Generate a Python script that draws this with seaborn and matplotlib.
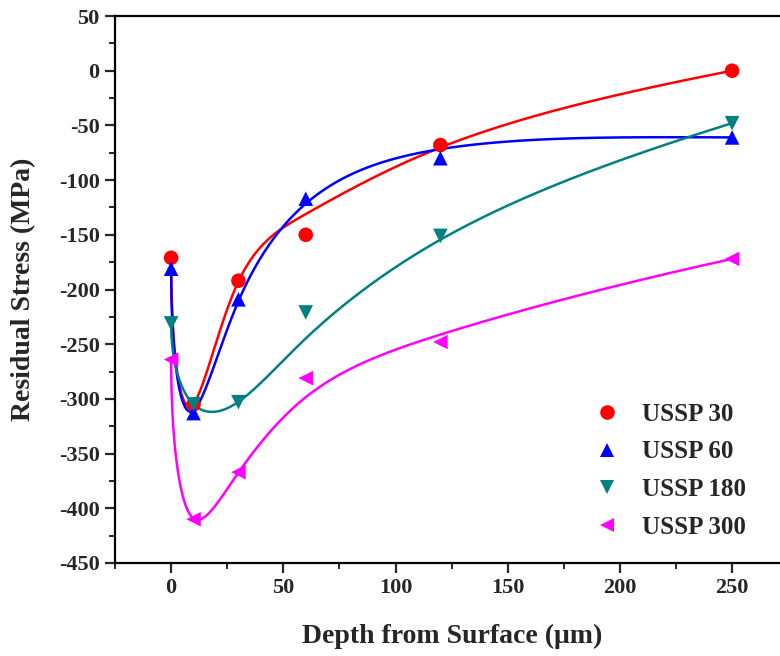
import numpy as np
import pandas as pd
import matplotlib
matplotlib.use("Agg")
import matplotlib.pyplot as plt
import seaborn as sns
from matplotlib.ticker import MultipleLocator

# ---- data ----
depth = [0, 10, 30, 60, 120, 250]
ussp30 = [-171, -305, -192, -150, -68, 0]
ussp60 = [-181, -313, -209, -117, -80, -61]
ussp180 = [-231, -305, -303, -221, -151, -48]
ussp300 = [-264, -410, -367, -281, -248, -172]
labels = ["USSP 30", "USSP 60", "USSP 180", "USSP 300"]
colors = ["#FF0000", "#0000FF", "#008080", "#FF00FF"]
markers = ["o", "^", "v", "<"]
# smoothing-spline fit settings (done in sqrt(depth) space)
fit_weights = [100.0, 100.0, 100.0, 1.0, 1.0, 100.0]
fit_lambda = [1.3, 6.0, 4.0, 3.0]


def smooth_spline(x, y, w, lam, xs):
    x = np.asarray(x, float); y = np.asarray(y, float); w = np.asarray(w, float)
    n = len(x); h = np.diff(x)
    Q = np.zeros((n, n - 2)); R = np.zeros((n - 2, n - 2))
    for j in range(1, n - 1):
        Q[j - 1, j - 1] = 1 / h[j - 1]
        Q[j, j - 1] = -1 / h[j - 1] - 1 / h[j]
        Q[j + 1, j - 1] = 1 / h[j]
        R[j - 1, j - 1] = (h[j - 1] + h[j]) / 3
        if j < n - 2:
            R[j - 1, j] = R[j, j - 1] = h[j] / 6
    K = Q @ np.linalg.solve(R, Q.T)
    W = np.diag(w)
    g = np.linalg.solve(W + lam * K, W @ y)
    gam = np.zeros(n)
    gam[1:-1] = np.linalg.solve(R, Q.T @ g)
    i = np.clip(np.searchsorted(x, xs, side="right") - 1, 0, n - 2)
    hi = h[i]
    a = xs - x[i]; b = x[i + 1] - xs
    return (a * g[i + 1] + b * g[i]) / hi - a * b / 6 * ((1 + a / hi) * gam[i + 1] + (1 + b / hi) * gam[i])


series = [ussp30, ussp60, ussp180, ussp300]
pts = pd.DataFrame({
    "depth": np.tile(depth, len(series)),
    "stress": np.concatenate(series),
    "group": np.repeat(labels, len(depth)),
})
xs = np.linspace(depth[0], depth[-1], 1500)
u = np.sqrt(np.asarray(depth, float))
curves = pd.concat([
    pd.DataFrame({"depth": xs,
                  "stress": smooth_spline(u, s, fit_weights, lam, np.sqrt(xs)),
                  "group": lab})
    for s, lab, lam in zip(series, labels, fit_lambda)
])

sns.set_style("ticks")
plt.rcParams["font.family"] = ["Liberation Serif", "DejaVu Serif"]
plt.rcParams["font.weight"] = "bold"
plt.rcParams["axes.unicode_minus"] = False

fig = plt.figure(figsize=(7.8, 6.56), dpi=100)
ax = fig.add_axes([115 / 780, 1 - 563 / 656, (780 - 115) / 780, (563 - 16) / 656])

pal = dict(zip(labels, colors))
sns.lineplot(data=curves, x="depth", y="stress", hue="group", palette=pal,
             hue_order=labels, linewidth=1.8, legend=False, ax=ax, sort=False)
sns.scatterplot(data=pts, x="depth", y="stress", hue="group", style="group",
                palette=pal, hue_order=labels, style_order=labels,
                markers=dict(zip(labels, markers)), s=110, linewidth=0,
                ax=ax, zorder=5)

ax.set_xlim(-25, -25 + 665 / 2.244)
ax.set_ylim(-450, 50)
ax.xaxis.set_major_locator(MultipleLocator(50))
ax.xaxis.set_minor_locator(MultipleLocator(25))
ax.yaxis.set_major_locator(MultipleLocator(50))
ax.yaxis.set_minor_locator(MultipleLocator(25))
ax.tick_params(which="major", direction="out", length=7, width=1.6, labelsize=16, pad=4)
ax.tick_params(which="minor", direction="out", length=4, width=1.4)
for lab in ax.get_xticklabels() + ax.get_yticklabels():
    lab.set_fontweight("bold")
for sp in ["left", "bottom", "top"]:
    ax.spines[sp].set_linewidth(1.6)
    ax.spines[sp].set_color("black")
ax.spines["right"].set_visible(False)

ax.set_xlabel("Depth from Surface (μm)", fontsize=20, fontweight="bold")
ax.set_ylabel("Residual Stress (MPa)", fontsize=20, fontweight="bold")
ax.xaxis.set_label_coords((452 - 115) / 665, (563 - 636) / 547)
ax.xaxis.label.set_va("center")
ax.yaxis.set_label_coords((24 - 115) / 665, 0.5)
ax.yaxis.label.set_va("center")

handles, hl = ax.get_legend_handles_labels()
leg = ax.legend(handles, hl, loc="upper left", frameon=False,
                bbox_to_anchor=(572 / 780, 1 - 393 / 656), bbox_transform=fig.transFigure,
                prop={"family": "Liberation Serif", "weight": "bold", "size": 18},
                handletextpad=0.4, labelspacing=0.58, borderaxespad=0, markerscale=1.0)

fig.savefig("out.png", dpi=100)
